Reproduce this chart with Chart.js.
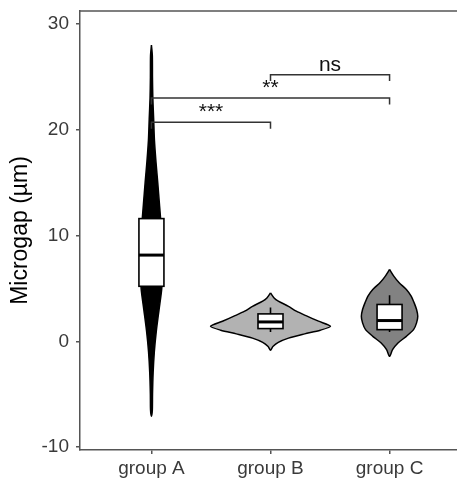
<!DOCTYPE html>
<html>
<head>
<meta charset="utf-8">
<script src="https://cdn.jsdelivr.net/npm/chart.js@4"></script>
<style>
  html, body { margin: 0; padding: 0; background: #fff; overflow: hidden; }
  #wrap { width: 470px; height: 480px; }
</style>
</head>
<body>
<div id="wrap"><canvas id="violinChart" width="470" height="480"></canvas></div>
<script>
const categories = ['group A', 'group B', 'group C'];
const yTicks = [-10, 0, 10, 20, 30];

// violin outlines: y values and relative density (group B peak = 1)
const valuesA = [28, 27, 25, 23, 21, 19, 17, 15, 13, 11, 9, 7, 5, 3, 1, -1, -3, -5, -6.5, -7.1];
const densityA = [0, 0.015, 0.017, 0.023, 0.037, 0.05, 0.075, 0.105, 0.133, 0.16, 0.177, 0.18, 0.172, 0.127, 0.082, 0.048, 0.028, 0.018, 0.015, 0];
const valuesB = [4.58, 4.1, 3.8, 3.3, 2.85, 2.4, 1.9, 1.42, 1.05, 0.7, 0.3, -0.1, -0.5, -0.85];
const densityB = [0, 0.06, 0.13, 0.3, 0.43, 0.6, 0.8, 1, 0.83, 0.57, 0.3, 0.13, 0.04, 0];
const valuesC = [6.79, 6.16, 5.53, 4.9, 4.27, 3.63, 3.0, 2.37, 1.74, 1.1, 0.47, -0.16, -0.79, -1.42];
const densityC = [0, 0.07, 0.16, 0.28, 0.36, 0.41, 0.45, 0.47, 0.45, 0.4, 0.28, 0.14, 0.05, 0];

// box statistics
const q1 = [5.2, 1.2, 1.1];
const medians = [8.15, 1.83, 1.96];
const q3 = [11.6, 2.59, 3.48];
const whiskerLow = [-4.4, 0.88, 0.88];
const whiskerHigh = [21.2, 3.2, 4.36];

// significance brackets
const bracketFrom = [0, 0, 1];
const bracketTo = [1, 2, 2];
const bracketY = [20.7, 23.0, 25.2];
const bracketLabels = ['***', '**', 'ns'];

const VIOLIN_HALF = 0.504;
const BOX_HALF = 0.105;
const TIP = 0.6;
const FONT = '"Liberation Sans", Arial, sans-serif';

function outline(center, values, dens) {
    const pts = [];
    for (let i = 0; i < values.length; i++) {
        pts.push({ x: center + dens[i] * VIOLIN_HALF, y: values[i] });
    }
    for (let i = values.length - 2; i >= 0; i--) {
        pts.push({ x: center - dens[i] * VIOLIN_HALF, y: values[i] });
    }
    return pts;
}

const violinFill = ['#000000', '#b2b2b2', '#828282'];

const boxPlugin = {
    id: 'boxes',
    afterDatasetsDraw(chart) {
        const ctx = chart.ctx;
        const xs = chart.scales.x, ys = chart.scales.y;
        ctx.save();
        for (let i = 0; i < categories.length; i++) {
            const cx = xs.getPixelForValue(i);
            const l = xs.getPixelForValue(i - BOX_HALF);
            const r = xs.getPixelForValue(i + BOX_HALF);
            const top = ys.getPixelForValue(q3[i]);
            const bot = ys.getPixelForValue(q1[i]);
            ctx.strokeStyle = '#000';
            ctx.lineWidth = 1.6;
            ctx.beginPath();
            ctx.moveTo(cx, ys.getPixelForValue(whiskerHigh[i]));
            ctx.lineTo(cx, top);
            ctx.moveTo(cx, bot);
            ctx.lineTo(cx, ys.getPixelForValue(whiskerLow[i]));
            ctx.stroke();
            ctx.fillStyle = '#fff';
            ctx.fillRect(l, top, r - l, bot - top);
            ctx.strokeRect(l, top, r - l, bot - top);
            ctx.lineWidth = 3;
            const m = ys.getPixelForValue(medians[i]);
            ctx.beginPath();
            ctx.moveTo(l, m);
            ctx.lineTo(r, m);
            ctx.stroke();
        }
        // brackets
        ctx.strokeStyle = '#333';
        ctx.lineWidth = 1.5;
        ctx.fillStyle = '#111';
        ctx.font = '21px ' + FONT;
        ctx.textAlign = 'center';
        ctx.textBaseline = 'alphabetic';
        for (let k = 0; k < bracketLabels.length; k++) {
            const x1 = xs.getPixelForValue(bracketFrom[k]);
            const x2 = xs.getPixelForValue(bracketTo[k]);
            const y = ys.getPixelForValue(bracketY[k]);
            const yt = ys.getPixelForValue(bracketY[k] - TIP);
            ctx.beginPath();
            ctx.moveTo(x1, yt);
            ctx.lineTo(x1, y);
            ctx.lineTo(x2, y);
            ctx.lineTo(x2, yt);
            ctx.stroke();
            ctx.fillText(bracketLabels[k], (x1 + x2) / 2, y - 4);
        }
        // top border
        const a = chart.chartArea;
        ctx.strokeStyle = '#555';
        ctx.lineWidth = 1.5;
        ctx.beginPath();
        ctx.moveTo(a.left, a.top);
        ctx.lineTo(a.right + 10, a.top);
        ctx.stroke();
        ctx.restore();
    }
};

const ctx = document.getElementById('violinChart').getContext('2d');
new Chart(ctx, {
    type: 'scatter',
    data: {
        datasets: [
            { data: outline(0, valuesA, densityA), backgroundColor: violinFill[0] },
            { data: outline(1, valuesB, densityB), backgroundColor: violinFill[1] },
            { data: outline(2, valuesC, densityC), backgroundColor: violinFill[2] }
        ].map(d => Object.assign(d, {
            showLine: true,
            fill: 'shape',
            borderColor: '#000',
            borderWidth: 1.5,
            tension: 0.25,
            pointRadius: 0,
            pointHoverRadius: 0
        }))
    },
    options: {
        responsive: false,
        animation: false,
        events: [],
        layout: { padding: { top: 11, right: 9, left: 0, bottom: 0 } },
        plugins: { legend: { display: false }, tooltip: { enabled: false } },
        scales: {
            x: {
                type: 'linear',
                min: -0.6,
                max: 2.6,
                afterBuildTicks: s => { s.ticks = [0, 1, 2].map(v => ({ value: v })); },
                afterFit: s => { s.height = 30; s.paddingLeft = 0; s.paddingRight = 0; },
                ticks: {
                    callback: v => categories[v],
                    color: '#3a3a3a',
                    font: { family: FONT, size: 19 },
                    padding: 3,
                    maxRotation: 0
                },
                grid: { drawOnChartArea: false, drawTicks: true, tickLength: 4, color: '#555', lineWidth: 1.5 },
                border: { display: true, color: '#555', width: 1.5 }
            },
            y: {
                min: -10.28,
                max: 31.23,
                afterBuildTicks: s => { s.ticks = yTicks.map(v => ({ value: v })); },
                afterFit: s => { s.width = 80; s.paddingTop = 0; s.paddingBottom = 0; },
                ticks: {
                    color: '#3a3a3a',
                    font: { family: FONT, size: 19 },
                    padding: 7
                },
                title: {
                    display: true,
                    text: 'Microgap (µm)',
                    color: '#000',
                    font: { family: FONT, size: 23 },
                    padding: { top: 7, bottom: 0 }
                },
                grid: { drawOnChartArea: false, drawTicks: true, tickLength: 4, color: '#555', lineWidth: 1.5 },
                border: { display: true, color: '#555', width: 1.5 }
            }
        }
    },
    plugins: [boxPlugin]
});
</script>
</body>
</html>
